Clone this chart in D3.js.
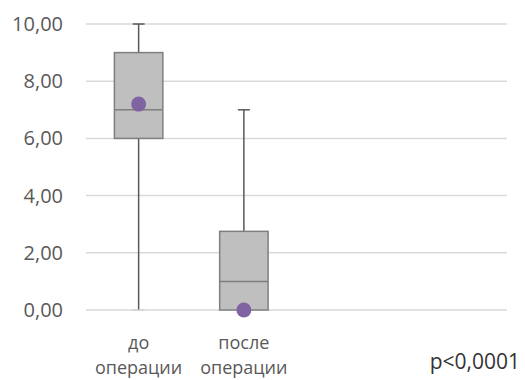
<!DOCTYPE html>
<html>
<head>
<meta charset="utf-8">
<script src="https://cdn.jsdelivr.net/npm/d3@7"></script>
<style>
  body { margin: 0; background: #fff; }
  text { font-family: "Open Sans", sans-serif; fill: #595959; }
</style>
</head>
<body>
<div id="chart"></div>
<script>
// categories (3rd and 4th slots are empty spacing in the original)
var categories = ["до операции", "после операции", "c3", "c4"];
var labelLines = [["до", "операции"], ["после", "операции"], [], []];
var note = "p<0,0001";

// box plot stats per group
var groups = ["до операции", "после операции"];
var minVals = [0, 0];
var q1Vals = [6, 0];
var medianVals = [7, 1];
var q3Vals = [9, 2.75];
var maxVals = [10, 7];
var meanVals = [7.2, 0];

var yTicks = [0, 2, 4, 6, 8, 10];

var W = 525, H = 380;
var margin = { top: 24, right: 18, bottom: 70, left: 86 };
var width = W - margin.left - margin.right,
    height = H - margin.top - margin.bottom;

var svg = d3.select("#chart").append("svg")
    .attr("width", W).attr("height", H)
    .append("g")
    .attr("transform", "translate(" + margin.left + "," + margin.top + ")");

var x = d3.scaleBand().domain(categories).range([0, width]).padding(0);
var y = d3.scaleLinear().domain([0, 10]).range([height, 0]);

// gridlines
svg.selectAll("line.grid")
    .data(yTicks)
    .enter().append("line")
    .attr("class", "grid")
    .attr("x1", 0).attr("x2", width)
    .attr("y1", function (d) { return y(d); })
    .attr("y2", function (d) { return y(d); })
    .style("stroke", "#d9d9d9")
    .style("stroke-width", 1.5);

// y axis labels
var yAxis = svg.append("g")
    .call(d3.axisLeft(y).tickValues(yTicks).tickSize(0).tickPadding(23)
        .tickFormat(function (d) { return d3.format(".2f")(d).replace(".", ","); }));
yAxis.select(".domain").remove();
yAxis.selectAll("text").style("font-size", "20px").style("fill", "#595959")
    .style("font-family", "Open Sans, sans-serif");

// x labels, two lines in one text element
svg.selectAll("text.xlab")
    .data(categories)
    .enter().append("text")
    .attr("class", "xlab")
    .attr("transform", function (d) { return "translate(" + (x(d) + x.bandwidth() / 2) + "," + height + ")"; })
    .attr("text-anchor", "middle")
    .style("font-size", "18px")
    .each(function (d, i) {
        var t = d3.select(this);
        labelLines[i].forEach(function (line, j) {
            t.append("tspan")
                .attr("x", 0)
                .attr("y", 39 + j * 24.5)
                .text(line);
        });
    });

// p-value note
svg.append("text")
    .attr("x", W - margin.left - 5)
    .attr("y", height + 59)
    .attr("text-anchor", "end")
    .style("font-size", "21px")
    .style("fill", "#333")
    .text(note);

var bw = x.bandwidth() * 0.46;
var capW = 12;

var boxes = svg.selectAll("g.box")
    .data(groups)
    .enter().append("g")
    .attr("class", "box")
    .attr("transform", function (d) { return "translate(" + (x(d) + x.bandwidth() / 2) + ",0)"; });

// whiskers
boxes.append("line")
    .attr("x1", 0).attr("x2", 0)
    .attr("y1", function (d, i) { return y(maxVals[i]); })
    .attr("y2", function (d, i) { return y(q3Vals[i]); })
    .style("stroke", "#595959").style("stroke-width", 1.5);
boxes.append("line")
    .attr("x1", 0).attr("x2", 0)
    .attr("y1", function (d, i) { return y(q1Vals[i]); })
    .attr("y2", function (d, i) { return y(minVals[i]); })
    .style("stroke", "#595959").style("stroke-width", 1.5);
boxes.append("line")
    .attr("x1", -capW / 2).attr("x2", capW / 2)
    .attr("y1", function (d, i) { return y(maxVals[i]); })
    .attr("y2", function (d, i) { return y(maxVals[i]); })
    .style("stroke", "#595959").style("stroke-width", 1.5);
boxes.append("line")
    .attr("x1", -capW / 2).attr("x2", capW / 2)
    .attr("y1", function (d, i) { return y(minVals[i]); })
    .attr("y2", function (d, i) { return y(minVals[i]); })
    .style("stroke", "#d0d0d0").style("stroke-width", 1.5);

// box
boxes.append("rect")
    .attr("x", -bw / 2)
    .attr("width", bw)
    .attr("y", function (d, i) { return y(q3Vals[i]); })
    .attr("height", function (d, i) { return y(q1Vals[i]) - y(q3Vals[i]); })
    .style("fill", "#bfbfbf")
    .style("stroke", "#7f7f7f")
    .style("stroke-width", 1.5);

// median
boxes.append("line")
    .attr("x1", -bw / 2).attr("x2", bw / 2)
    .attr("y1", function (d, i) { return y(medianVals[i]); })
    .attr("y2", function (d, i) { return y(medianVals[i]); })
    .style("stroke", "#7f7f7f").style("stroke-width", 1.5);

// mean marker
boxes.append("circle")
    .attr("cx", 0)
    .attr("cy", function (d, i) { return y(meanVals[i]); })
    .attr("r", 7.5)
    .style("fill", "#8064a2");
</script>
</body>
</html>
